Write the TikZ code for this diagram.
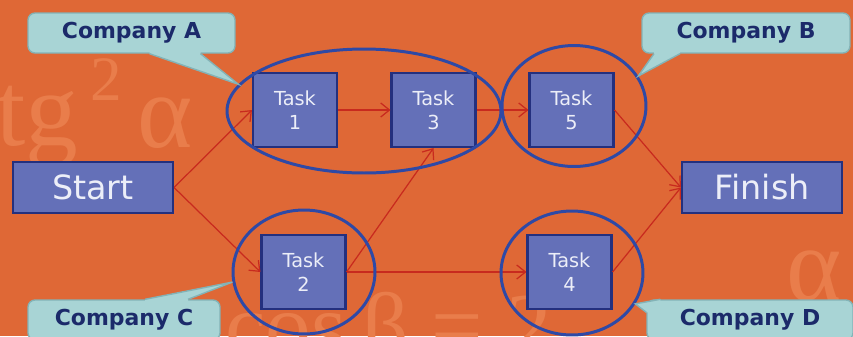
\documentclass[tikz,border=0pt]{standalone}
\usepackage{fontspec}
\setsansfont{DejaVu Sans}
\newfontfamily\wmfont{Liberation Serif}
\usepackage{xcolor}
\usepackage{tikz}
\usetikzlibrary{positioning,arrows.meta,shapes.geometric,calc}
\definecolor{bgOrange}{HTML}{DF6836}
\definecolor{wmOrange}{HTML}{E97D4B}
\definecolor{boxFill}{HTML}{6470B8}
\definecolor{boxBorder}{HTML}{24307E}
\definecolor{boxText}{HTML}{ECEEF8}
\definecolor{groupBlue}{HTML}{2E49A6}
\definecolor{flowRed}{HTML}{C82A1E}
\definecolor{calloutFill}{HTML}{A8D4D5}
\definecolor{calloutEdge}{HTML}{83B3B7}
\definecolor{companyNavy}{HTML}{1B2A6A}

\begin{document}
\begin{tikzpicture}[x=0.02cm, y=-0.02cm,
  endpoint/.style={draw=boxBorder, line width=1.2pt, fill=boxFill, text=boxText,
    font=\sffamily\fontsize{19}{19}\selectfont, minimum width=3.2cm, minimum height=1.02cm, inner sep=0pt},
  task/.style={draw=boxBorder, line width=1.2pt, fill=boxFill, text=boxText, align=center,
    font=\sffamily\fontsize{11}{13.5}\selectfont, minimum width=1.68cm, minimum height=1.48cm, inner sep=0pt},
  group/.style={ellipse, draw=groupBlue, line width=1.7pt, inner sep=0pt},
  company/.style={rounded corners=4pt, fill=calloutFill, draw=calloutEdge, line width=0.8pt, text=companyNavy,
    font=\sffamily\bfseries\fontsize{12.5}{12.5}\selectfont, minimum height=0.8cm, inner sep=0pt},
  tailedge/.style={draw=calloutEdge, line width=0.8pt, line join=miter},
  flow/.style={-{Straight Barb[length=5pt,width=8pt]}, draw=flowRed, line width=0.7pt},
  bgmath/.style={text=wmOrange, inner sep=0pt, anchor=base west, font=\wmfont\fontsize{60}{60}\selectfont}]

  % background
  \fill[bgOrange] (0,0) rectangle (853,336);
  \useasboundingbox (0,0) rectangle (853,336);
  \node[bgmath] (wmTg) at (-4,145) {tg};
  \node[bgmath, font=\wmfont\fontsize{36}{36}\selectfont] (wmTwo) at (90,100) {2};
  \node[bgmath] (wmAlpha) at (137,147) {α};
  \node[bgmath] (wmAlphaR) at (786,300) {α};
  \node[bgmath, font=\wmfont\fontsize{52}{52}\selectfont] (wmCos) at (225,356) {cos\,β = 2};

  % tasks
  \node[endpoint] (start) at (93,187.5) {Start};
  \node[endpoint] (finish) at (762,187.5) {Finish};
  \node[task] (task1) at (295,110) {Task\\1};
  \node[task] (task3) at (433.5,110) {Task\\3};
  \node[task] (task5) at (571.5,110) {Task\\5};
  \node[task] (task2) at (303.5,272) {Task\\2};
  \node[task] (task4) at (569.5,272) {Task\\4};

  % dependencies
  \draw[flow] (start.east) -- (task1.west);
  \draw[flow] (start.east) -- (task2.west);
  \draw[flow] (task1) -- (task3);
  \draw[flow] (task2.east) -- (task3.south);
  \draw[flow] (task3) -- (task5);
  \draw[flow] (task2) -- (task4);
  \draw[flow] (task5.east) -- (finish.west);
  \draw[flow] (task4.east) -- (finish.west);

  % companies
  \node[group, minimum width=5.48cm, minimum height=2.48cm] (grpA) at (364,111) {};
  \node[group, minimum width=2.88cm, minimum height=2.42cm] (grpB) at (574,106) {};
  \node[group, minimum width=2.84cm, minimum height=2.48cm] (grpC) at (304,272) {};
  \node[group, minimum width=2.84cm, minimum height=2.48cm] (grpD) at (572,273) {};
  \coordinate (tipA) at (grpA.168);
  \coordinate (tipB) at (grpB.25);
  \coordinate (tipC) at (grpC.188);
  \coordinate (tipD) at (grpD.334);

  % callouts
  \node[company, minimum width=4.14cm] (compA) at (131.5,33) {Company A};
  \fill[calloutFill] ($(compA.south)+(18,-3)$) -- ($(compA.south)+(18,0)$) -- (tipA) -- ($(compA.south)+(69,0)$) -- ($(compA.south)+(69,-3)$) -- cycle;
  \draw[tailedge] ($(compA.south)+(18,0)$) -- (tipA) -- ($(compA.south)+(69,0)$);

  \node[company, minimum width=4.16cm] (compB) at (746,33) {Company B};
  \fill[calloutFill] ($(compB.south)+(-92,-3)$) -- ($(compB.south)+(-92,0)$) -- (tipB) -- ($(compB.south)+(-66,0)$) -- ($(compB.south)+(-66,-3)$) -- cycle;
  \draw[tailedge] ($(compB.south)+(-92,0)$) -- (tipB) -- ($(compB.south)+(-66,0)$);

  \node[company, minimum width=3.84cm] (compC) at (124,320) {Company C};
  \fill[calloutFill] ($(compC.north)+(21,3)$) -- ($(compC.north)+(21,0)$) -- (tipC) -- ($(compC.north)+(64,0)$) -- ($(compC.north)+(64,3)$) -- cycle;
  \draw[tailedge] ($(compC.north)+(21,0)$) -- (tipC) -- ($(compC.north)+(64,0)$);

  \node[company, minimum width=4.12cm] (compD) at (750,320) {Company D};
  \fill[calloutFill] ($(compD.north west)+(4,4)$) -- ($(compD.north west)+(14,3)$) -- ($(compD.north west)+(14,0)$) -- (tipD) -- ($(compD.north west)+(0,13)$) -- ($(compD.north west)+(3,13)$) -- cycle;
  \draw[tailedge] ($(compD.north west)+(14,0)$) -- (tipD) -- ($(compD.north west)+(0,13)$);
\end{tikzpicture}
\end{document}
